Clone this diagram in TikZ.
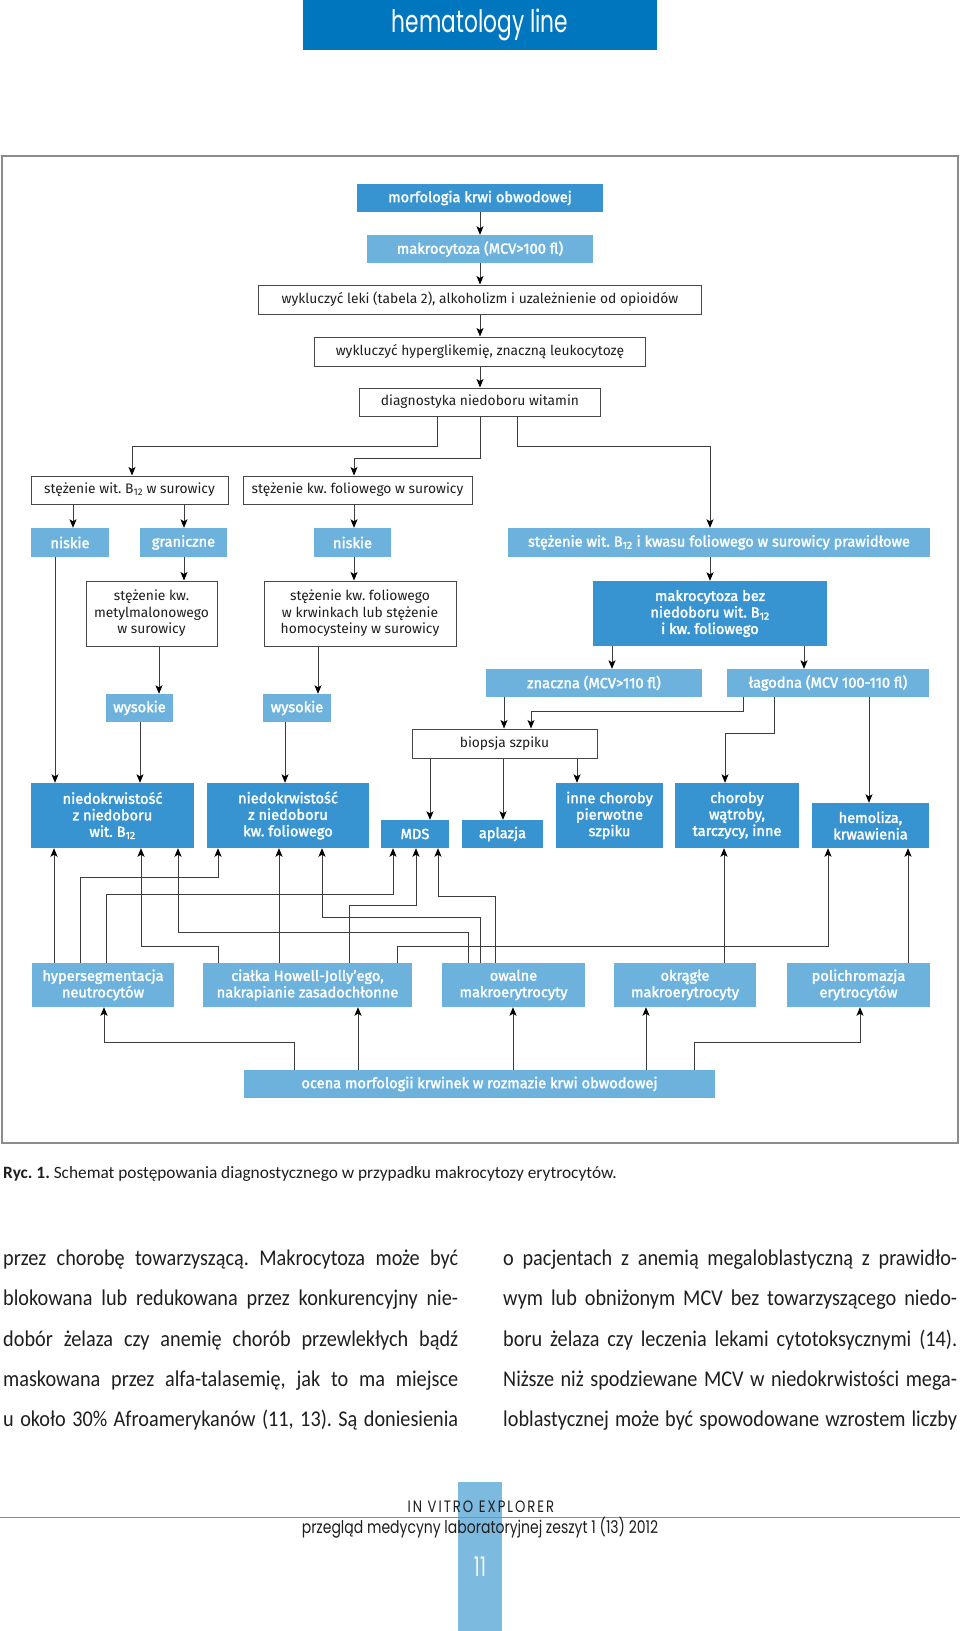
\documentclass[tikz,border=0pt]{standalone}
\usepackage{fontspec}
\setmainfont{Fira Sans}
\newfontfamily\dgfam{Fira Sans}
\newfontfamily\dgbfam[FakeBold=2]{Fira Sans}
\newfontfamily\bodyfam[FakeStretch=0.9]{Carlito}
\newfontfamily\capfam{Carlito}
\newfontfamily\headfam[FakeStretch=0.7]{Poppins}
\newfontfamily\footfam[FakeStretch=0.8]{Poppins}
\newfontfamily\footcapfam[FakeStretch=0.8,LetterSpace=12]{Poppins}
\usetikzlibrary{arrows.meta}
\frenchspacing
\definecolor{hdrblue}{RGB}{0,118,190}
\definecolor{darkblue}{RGB}{55,148,208}
\definecolor{lightblue}{RGB}{108,178,221}
\definecolor{stripblue}{RGB}{125,186,223}
\definecolor{linec}{RGB}{60,60,60}
\definecolor{boxline}{RGB}{70,70,70}
\definecolor{textdark}{RGB}{30,30,30}
\definecolor{framec}{RGB}{140,140,140}
\newcommand\dgW{\dgfam\fontsize{13.8}{16.5}\selectfont}
\newcommand\dgB{\dgbfam\fontsize{14.6}{16.5}\selectfont}
\newcommand\bodyF{\bodyfam\fontsize{22.5}{26}\selectfont}
\tikzset{
  base/.style={inner sep=0pt, align=center},
  wbox/.style={base, draw=boxline, line width=1pt, fill=white, text=textdark, font=\dgW},
  lbox/.style={base, fill=lightblue, text=white, font=\dgB},
  dbox/.style={base, fill=darkblue, text=white, font=\dgB},
  arr/.style={draw=linec, line width=0.9pt, -{Stealth[length=8.5pt,width=7pt,inset=2pt,color=black]}},
  bodyline/.style={anchor=base west, inner sep=0pt, font=\bodyF, text=textdark},
}
\begin{document}
\begin{tikzpicture}[x=1pt,y=-1pt]
\useasboundingbox (0,0) rectangle (960,1631);
\fill[white] (0,0) rectangle (960,1631);

% header
\fill[hdrblue] (303,0) rectangle (657,50);
\node[anchor=base, inner sep=0pt, text=white, font={\headfam\fontsize{31}{34}\selectfont}] (hdr) at (480,32) {hematology line};

% frame
\draw[framec, line width=1.3pt] (2,156) rectangle (958,1143);

% top chain
\node[dbox, minimum width=246, minimum height=28] (n1) at (480,198) {morfologia krwi obwodowej};
\node[lbox, minimum width=226, minimum height=28] (n2) at (480,249) {makrocytoza (MCV>100 fl)};
\node[wbox, minimum width=443, minimum height=29] (n3) at (480,299.5) {wykluczyć leki (tabela 2), alkoholizm i uzależnienie od opioidów};
\node[wbox, minimum width=331, minimum height=29] (n4) at (480,351.5) {wykluczyć hyperglikemię, znaczną leukocytozę};
\node[wbox, minimum width=241, minimum height=28] (n5) at (480,402) {diagnostyka niedoboru witamin};

% row 2
\node[wbox, minimum width=197, minimum height=28] (b12) at (129.5,490) {stężenie wit. B\textsubscript{12} w surowicy};
\node[wbox, minimum width=229, minimum height=28] (fol) at (357.5,490) {stężenie kw. foliowego w surowicy};

% row 3
\node[lbox, minimum width=78, minimum height=29] (niskieL) at (70,542.5) {niskie};
\node[lbox, minimum width=87, minimum height=29] (gran) at (183.5,542.5) {graniczne};
\node[lbox, minimum width=77, minimum height=29] (niskieM) at (352.5,542.5) {niskie};
\node[lbox, minimum width=422, minimum height=29] (praw) at (719,542.5) {stężenie wit. B\textsubscript{12} i kwasu foliowego w surowicy prawidłowe};

% row 4
\node[wbox, minimum width=131, minimum height=65] (metyl) at (151.5,613.5) {stężenie kw.\\metylmalonowego\\w surowicy};
\node[wbox, minimum width=192, minimum height=65] (folkrw) at (360,613.5) {stężenie kw. foliowego\\w krwinkach lub stężenie\\homocysteiny w surowicy};
\node[dbox, minimum width=234, minimum height=65] (makrobez) at (710,613.5) {makrocytoza bez\\niedoboru wit. B\textsubscript{12}\\i kw. foliowego};

% row 5
\node[lbox, minimum width=67, minimum height=28] (wys1) at (139.5,708) {wysokie};
\node[lbox, minimum width=68, minimum height=28] (wys2) at (297,708) {wysokie};
\node[lbox, minimum width=216, minimum height=28] (znaczna) at (594,683) {znaczna (MCV>110 fl)};
\node[lbox, minimum width=202, minimum height=28] (lagodna) at (828,683) {łagodna (MCV 100-110 fl)};

% row 6
\node[wbox, minimum width=185, minimum height=29] (biopsja) at (504.5,743.5) {biopsja szpiku};

% row 7
\node[dbox, minimum width=163, minimum height=65] (nB12) at (112.5,815.5) {niedokrwistość\\z niedoboru\\wit. B\textsubscript{12}};
\node[dbox, minimum width=162, minimum height=65] (nFol) at (288,815.5) {niedokrwistość\\z niedoboru\\kw. foliowego};
\node[dbox, minimum width=68, minimum height=28] (MDS) at (415,834) {MDS};
\node[dbox, minimum width=81, minimum height=28] (aplazja) at (502.5,834) {aplazja};
\node[dbox, minimum width=107, minimum height=65] (inne) at (609.5,815.5) {inne choroby\\pierwotne\\szpiku};
\node[dbox, minimum width=124, minimum height=65] (watroba) at (737,815.5) {choroby\\wątroby,\\tarczycy, inne};
\node[dbox, minimum width=117, minimum height=45] (hemoliza) at (870.5,825.5) {hemoliza,\\krwawienia};

% row 8
\node[lbox, minimum width=142, minimum height=44] (hyper) at (103,985) {hypersegmentacja\\neutrocytów};
\node[lbox, minimum width=209, minimum height=44] (cialka) at (307.5,985) {ciałka Howell-Jolly’ego,\\nakrapianie zasadochłonne};
\node[lbox, minimum width=143, minimum height=44] (owalne) at (513.5,985) {owalne\\makroerytrocyty};
\node[lbox, minimum width=142, minimum height=44] (okragle) at (685,985) {okrągłe\\makroerytrocyty};
\node[lbox, minimum width=143, minimum height=44] (polichrom) at (858.5,985) {polichromazja\\erytrocytów};

% ocena
\node[lbox, minimum width=471, minimum height=28] (ocena) at (479.5,1084) {ocena morfologii krwinek w rozmazie krwi obwodowej};

% connectors: top chain
\draw[arr] (n1.south) -- (n2.north);
\draw[arr] (n2.south) -- (n3.north);
\draw[arr] (n3.south) -- (n4.north);
\draw[arr] (n4.south) -- (n5.north);
\draw[arr] ([xshift=-43pt]n5.south) -- ++(0,30) -| ([xshift=2.5pt]b12.north);
\draw[arr] (n5.south) -- ++(0,42) -| ([xshift=-3.5pt]fol.north);
\draw[arr] ([xshift=37pt]n5.south) -- ++(0,30) -| ([xshift=-9pt]praw.north);

\draw[arr] ([xshift=-56.5pt]b12.south) -- ([xshift=-56.5pt]b12.south |- niskieL.north);
\draw[arr] ([xshift=54.5pt]b12.south) -- ([xshift=54.5pt]b12.south |- gran.north);
\draw[arr] ([xshift=-3.5pt]fol.south) -- ([xshift=-3.5pt]fol.south |- niskieM.north);
\draw[arr] ([xshift=0.5pt]gran.south) -- ([xshift=0.5pt]gran.south |- metyl.north);
\draw[arr] ([xshift=1.5pt]niskieM.south) -- ([xshift=1.5pt]niskieM.south |- folkrw.north);
\draw[arr] ([xshift=-9pt]praw.south) -- ([xshift=-9pt]praw.south |- makrobez.north);
\draw[arr] ([xshift=7.5pt]metyl.south) -- ([xshift=7.5pt]metyl.south |- wys1.north);
\draw[arr] ([xshift=-42pt]folkrw.south) -- ([xshift=-42pt]folkrw.south |- wys2.north);
\draw[arr] ([xshift=-98pt]makrobez.south) -- ([xshift=-98pt]makrobez.south |- znaczna.north);
\draw[arr] ([xshift=94pt]makrobez.south) -- ([xshift=94pt]makrobez.south |- lagodna.north);
\draw[arr] ([xshift=-90pt]znaczna.south) -- ([xshift=-90pt]znaczna.south |- biopsja.north);
\draw[arr] ([xshift=-85pt]lagodna.south) -- ++(0,14) -| ([xshift=26.5pt]biopsja.north);
\draw[arr] ([xshift=-54pt]lagodna.south) -- ++(0,36) -| ([xshift=-12pt]watroba.north);
\draw[arr] ([xshift=41pt]lagodna.south) -- ([xshift=41pt]lagodna.south |- hemoliza.north);
\draw[arr] ([xshift=-15pt]niskieL.south) -- ([xshift=-15pt]niskieL.south |- nB12.north);
\draw[arr] ([xshift=0.5pt]wys1.south) -- ([xshift=0.5pt]wys1.south |- nB12.north);
\draw[arr] ([xshift=-12pt]wys2.south) -- ([xshift=-12pt]wys2.south |- nFol.north);
\draw[arr] ([xshift=-74.5pt]biopsja.south) -- ([xshift=-74.5pt]biopsja.south |- MDS.north);
\draw[arr] ([xshift=-1.5pt]biopsja.south) -- ([xshift=-1.5pt]biopsja.south |- aplazja.north);
\draw[arr] ([xshift=72.5pt]biopsja.south) -- ([xshift=72.5pt]biopsja.south |- inne.north);

% upward connectors from morphology findings
\draw[arr] ([xshift=-49pt]hyper.north) -- ([xshift=-49pt]hyper.north |- nB12.south);
\draw[arr] ([xshift=-23pt]hyper.north) -- ++(0,-85) -| ([xshift=-70pt]nFol.south);
\draw[arr] ([xshift=3pt]hyper.north) -- ++(0,-68) -| ([xshift=-22pt]MDS.south);
\draw[arr] ([xshift=-89.5pt]cialka.north) -- ++(0,-16) -| ([xshift=28.5pt]nB12.south);
\draw[arr] ([xshift=-28.5pt]cialka.north) -- ([xshift=-28.5pt]cialka.north |- nFol.south);
\draw[arr] ([xshift=41.5pt]cialka.north) -- ++(0,-57) -| ([xshift=1pt]MDS.south);
\draw[arr] ([xshift=89.5pt]cialka.north) -- ++(0,-16) -| ([xshift=-42.5pt]hemoliza.south);
\draw[arr] ([xshift=-45.5pt]owalne.north) -- ++(0,-30) -| ([xshift=65.5pt]nB12.south);
\draw[arr] ([xshift=-33.5pt]owalne.north) -- ++(0,-45) -| ([xshift=34pt]nFol.south);
\draw[arr] ([xshift=-18.5pt]owalne.north) -- ++(0,-66) -| ([xshift=23pt]MDS.south);
\draw[arr] ([xshift=39pt]okragle.north) -- ([xshift=39pt]okragle.north |- watroba.south);
\draw[arr] ([xshift=49.5pt]polichrom.north) -- ([xshift=49.5pt]polichrom.north |- hemoliza.south);

% from ocena
\draw[arr] ([xshift=-185.5pt]ocena.north) -- ++(0,-27) -| ([xshift=1pt]hyper.south);
\draw[arr] ([xshift=-121.5pt]ocena.north) -- ([xshift=-121.5pt]ocena.north |- cialka.south);
\draw[arr] ([xshift=33.5pt]ocena.north) -- ([xshift=33.5pt]ocena.north |- owalne.south);
\draw[arr] ([xshift=166.5pt]ocena.north) -- ([xshift=166.5pt]ocena.north |- okragle.south);
\draw[arr] ([xshift=214.5pt]ocena.north) -- ++(0,-27) -| ([xshift=1.5pt]polichrom.south);

% caption
\node[anchor=base west, inner sep=0pt, text=textdark, font={\capfam\fontsize{17.3}{20}\selectfont}] (cap) at (3,1178) {\textbf{Ryc. 1.} Schemat postępowania diagnostycznego w przypadku makrocytozy erytrocytów.};

% body text, left column
\node[bodyline] (l1) at (3,1265) {\makebox[455pt][s]{przez chorobę towarzyszącą. Makrocytoza może być}};
\node[bodyline] (l2) at (3,1305) {\makebox[455pt][s]{blokowana lub redukowana przez konkurencyjny nie-}};
\node[bodyline] (l3) at (3,1346) {\makebox[455pt][s]{dobór żelaza czy anemię chorób przewlekłych bądź}};
\node[bodyline] (l4) at (3,1386) {\makebox[455pt][s]{maskowana przez alfa-talasemię, jak to ma miejsce}};
\node[bodyline] (l5) at (3,1426) {\makebox[455pt][s]{u około 30\% Afroamerykanów (11, 13). Są doniesienia}};
% body text, right column
\node[bodyline] (r1) at (503,1265) {\makebox[454pt][s]{o pacjentach z anemią megaloblastyczną z prawidło-}};
\node[bodyline] (r2) at (503,1305) {\makebox[454pt][s]{wym lub obniżonym MCV bez towarzyszącego niedo-}};
\node[bodyline] (r3) at (503,1346) {\makebox[454pt][s]{boru żelaza czy leczenia lekami cytotoksycznymi (14).}};
\node[bodyline] (r4) at (503,1386) {\makebox[454pt][s]{Niższe niż spodziewane MCV w niedokrwistości mega-}};
\node[bodyline] (r5) at (503,1426) {\makebox[454pt][s]{loblastycznej może być spowodowane wzrostem liczby}};

% footer
\fill[stripblue] (458,1482) rectangle (502,1631);
\draw[framec, line width=1pt] (0,1517) -- (960,1517);
\node[anchor=base, inner sep=0pt, text=textdark, font={\footcapfam\fontsize{16.5}{19}\selectfont}] (ive) at (481,1512) {IN VITRO EXPLORER};
\node[anchor=base, inner sep=0pt, text=textdark, font={\footfam\fontsize{17.5}{20}\selectfont}] (pml) at (480,1533.5) {przegląd medycyny laboratoryjnej zeszyt 1 (13) 2012};
\node[anchor=base, inner sep=0pt, text=white!92!stripblue, font={\headfam\fontsize{27}{30}\selectfont}] (pg) at (480,1576) {11};
\end{tikzpicture}
\end{document}
